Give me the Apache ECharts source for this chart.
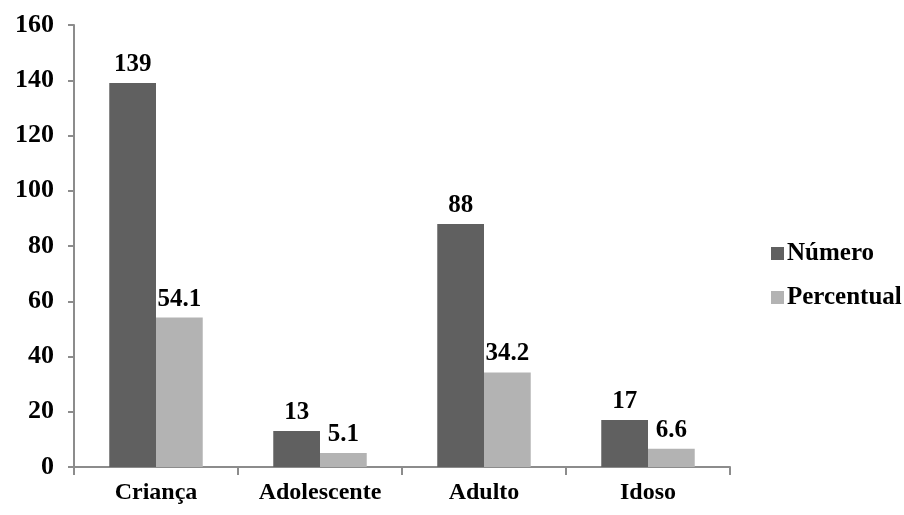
<!DOCTYPE html>
<html><head><meta charset="utf-8">
<script src="https://cdn.jsdelivr.net/npm/echarts@6/dist/echarts.min.js"></script>
<style>html,body{margin:0;padding:0;background:#fff}#c{width:904px;height:515px}</style>
</head><body><div id="c"></div>
<script>
const categories = ["Criança", "Adolescente", "Adulto", "Idoso"];
const numero = [139, 13, 88, 17];
const percentual = [54.1, 5.1, 34.2, 6.6];
const seriesNames = ["Número", "Percentual"];
const yTicks = {min: 0, max: 160, interval: 20};

const font = "'Liberation Serif', 'Times New Roman', serif";
const chart = echarts.init(document.getElementById('c'));
const lbl = {show: true, position: 'top', distance: 6, color: '#000', fontFamily: font, fontWeight: 'bold', fontSize: 25};
chart.setOption({
  animation: false,
  grid: {left: 74, right: 174, top: 25, bottom: 48, containLabel: false},
  legend: {
    orient: 'vertical', left: 771, top: 241, padding: 0, itemGap: 19, itemWidth: 13, itemHeight: 13,
    icon: 'rect',
    textStyle: {fontFamily: font, fontWeight: 'bold', fontSize: 25, color: '#000', padding: [0,0,0,-2]},
    data: seriesNames
  },
  xAxis: {
    type: 'category', data: categories,
    axisLine: {lineStyle: {color: '#8c8c8c', width: 2}},
    axisTick: {show: true, length: 8, lineStyle: {color: '#8c8c8c', width: 2}},
    axisLabel: {color: '#000', fontFamily: font, fontWeight: 'bold', fontSize: 24, margin: 14}
  },
  yAxis: {
    type: 'value', min: yTicks.min, max: yTicks.max, interval: yTicks.interval,
    splitLine: {show: false},
    axisLine: {show: true, lineStyle: {color: '#8c8c8c', width: 2}},
    axisTick: {show: true, length: 6, lineStyle: {color: '#8c8c8c', width: 2}},
    axisLabel: {color: '#000', fontFamily: font, fontWeight: 'bold', fontSize: 26, margin: 20}
  },
  series: [
    {name: seriesNames[0], type: 'bar', data: numero, barWidth: '28.5%', barGap: '0%',
     itemStyle: {color: '#606060'}, label: lbl},
    {name: seriesNames[1], type: 'bar', data: percentual, barWidth: '28.5%',
     itemStyle: {color: '#b3b3b3'}, label: lbl}
  ]
});
</script></body></html>
